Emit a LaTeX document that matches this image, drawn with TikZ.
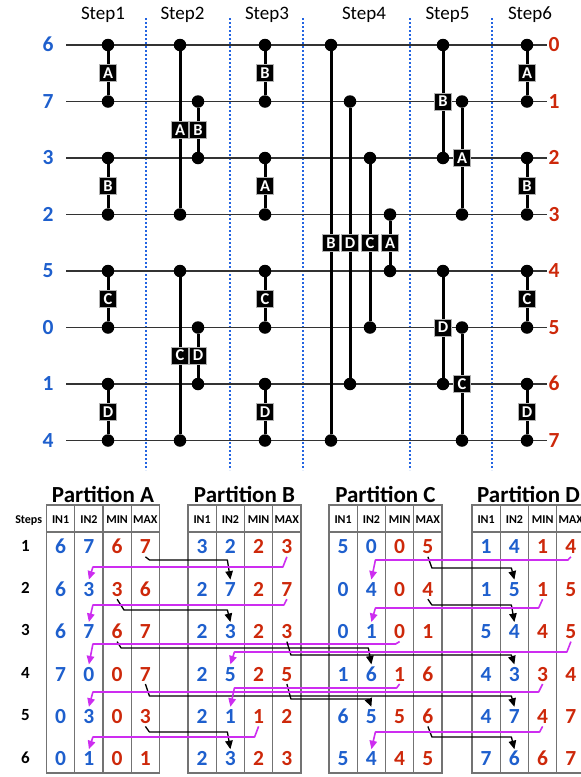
\documentclass[tikz,border=0pt]{standalone}
\usepackage{fontspec}
\setmainfont{Carlito}
\usetikzlibrary{arrows.meta}
\definecolor{nblue}{RGB}{30,95,205}
\definecolor{nred}{RGB}{205,40,10}
\definecolor{nmag}{RGB}{205,45,240}
\definecolor{sepblue}{RGB}{35,100,225}
\newcommand\comparator[6]{%
  \node[dotnode] (#1t) at (#2,#3) {};
  \node[dotnode] (#1b) at (#2,#4) {};
  \draw[cmpline] (#1t) -- (#1b);
  \node[labbox] (#1l) at (#2,#5) {#6};}
\newcommand\partitiontable[2]{%
  \draw[tblline] (#2,505) rectangle (#2+113,773);
  \draw[tblline] (#2,532) -- (#2+113,532);
  \foreach \k in {1,2,3} \draw[tblline] (#2+28.25*\k,505) -- (#2+28.25*\k,773);
  \node[ptitle] (#1title) at (#2+56.5,502) {Partition #1};
  \node[hdr] (#1h1) at (#2+14.1,523.5) {IN1};
  \node[hdr] (#1h2) at (#2+42.4,523.5) {IN2};
  \node[hdr] (#1h3) at (#2+70.6,523.5) {MIN};
  \node[hdr] (#1h4) at (#2+98.9,523.5) {MAX};}
\newcommand\tabrow[8]{%
  \node[bval] (#1#3a) at (#2+14.1,#4) {#5};
  \node[bval] (#1#3b) at (#2+42.4,#4) {#6};
  \node[rval] (#1#3c) at (#2+70.6,#4) {#7};
  \node[rval] (#1#3d) at (#2+98.9,#4) {#8};}
\newcommand\conn[6]{\draw[#1] (#2.south) -- (#4,#6) -- (#5,#6) -- (#3.north);}
\begin{document}
\begin{tikzpicture}[x=1pt,y=-1pt,
  wire/.style={line width=1.4pt, black!80},
  dotnode/.style={circle, fill=black, inner sep=0pt, minimum size=12.5pt},
  cmpline/.style={line width=3pt},
  labbox/.style={fill=black, draw=black!30, line width=0.7pt, text=white,
    font=\bfseries\fontsize{16.5}{16.5}\selectfont, inner sep=0pt,
    minimum width=16.5pt, minimum height=17pt},
  sepline/.style={sepblue, line width=1.8pt, dash pattern=on 1.8pt off 2.2pt},
  steplab/.style={font=\fontsize{19}{19}\selectfont, anchor=base},
  bval/.style={text=nblue, font=\bfseries\fontsize{21.5}{21.5}\selectfont,
    inner sep=0pt, outer sep=3pt, text height=13.6pt, text depth=0pt},
  rval/.style={bval, text=nred},
  tblline/.style={line width=1.2pt, black!55},
  ptitle/.style={font=\bfseries\fontsize{23}{23}\selectfont, anchor=base},
  hdr/.style={font=\bfseries\fontsize{12}{12}\selectfont, anchor=base},
  snum/.style={font=\bfseries\fontsize{17}{17}\selectfont, anchor=base},
  blk/.style={line width=1.3pt, line join=round, -{Triangle[length=8.5pt,width=7.5pt]}},
  mag/.style={nmag, line width=1.6pt, line join=round, -{Triangle[length=8.5pt,width=7.5pt]}}
]
\useasboundingbox (0,0) rectangle (581,777);
\clip (0,0) rectangle (581,777);

% separators
\foreach \x in {146,230,303,410,492} \draw[sepline] (\x,18) -- (\x,470);

% step labels
\foreach \i/\x in {1/103,2/182.5,3/267,4/364,5/447.5,6/530}
  \node[steplab] (st\i) at (\x,19.5) {Step\i};

% wires
\foreach \i/\y/\l in {0/45/6,1/101.5/7,2/158/3,3/214.5/2,4/271/5,5/327.5/0,6/384/1,7/440.5/4} {
  \coordinate (wl\i) at (66,\y);
  \coordinate (wr\i) at (547,\y);
  \draw[wire] (wl\i) -- (wr\i);
  \node[bval] (L\i) at (48,\y) {\l};
  \node[rval] (R\i) at (554,\y) {\i};
}

% comparators
\comparator{a1}{108}{45}{101.5}{73.25}{A}
\comparator{b1}{108}{158}{214.5}{186.25}{B}
\comparator{c1}{108}{271}{327.5}{299.25}{C}
\comparator{d1}{108}{384}{440.5}{412.25}{D}
\comparator{a2}{180}{45}{214.5}{130}{A}
\comparator{b2}{198}{101.5}{158}{130}{B}
\comparator{c2}{180}{271}{440.5}{355.5}{C}
\comparator{d2}{198}{327.5}{384}{355.5}{D}
\comparator{b3}{265}{45}{101.5}{73.25}{B}
\comparator{a3}{265}{158}{214.5}{186.25}{A}
\comparator{c3}{265}{271}{327.5}{299.25}{C}
\comparator{d3}{265}{384}{440.5}{412.25}{D}
\comparator{b4}{331}{45}{440.5}{243}{B}
\comparator{d4}{350}{101.5}{384}{243}{D}
\comparator{c4}{370}{158}{327.5}{243}{C}
\comparator{a4}{390}{214.5}{271}{243}{A}
\comparator{b5}{443}{45}{158}{101.5}{B}
\comparator{a5}{462}{101.5}{214.5}{158}{A}
\comparator{d5}{443}{271}{384}{327.5}{D}
\comparator{c5}{462}{327.5}{440.5}{384}{C}
\comparator{a6}{527}{45}{101.5}{73.25}{A}
\comparator{b6}{527}{158}{214.5}{186.25}{B}
\comparator{c6}{527}{271}{327.5}{299.25}{C}
\comparator{d6}{527}{384}{440.5}{412.25}{D}

% tables
\partitiontable{A}{46.5}
\partitiontable{B}{188}
\partitiontable{C}{329}
\partitiontable{D}{472}
\node[hdr] (stepshdr) at (28.7,523.5) {Steps};
\foreach \r/\y in {1/547,2/589.4,3/631.8,4/674.2,5/716.6,6/759}
  \node[snum] (sn\r) at (25.5,\y+4) {\r};

\tabrow{A}{46.5}{1}{547}{6}{7}{6}{7}
\tabrow{B}{188}{1}{547}{3}{2}{2}{3}
\tabrow{C}{329}{1}{547}{5}{0}{0}{5}
\tabrow{D}{472}{1}{547}{1}{4}{1}{4}
\tabrow{A}{46.5}{2}{589.4}{6}{3}{3}{6}
\tabrow{B}{188}{2}{589.4}{2}{7}{2}{7}
\tabrow{C}{329}{2}{589.4}{0}{4}{0}{4}
\tabrow{D}{472}{2}{589.4}{1}{5}{1}{5}
\tabrow{A}{46.5}{3}{631.8}{6}{7}{6}{7}
\tabrow{B}{188}{3}{631.8}{2}{3}{2}{3}
\tabrow{C}{329}{3}{631.8}{0}{1}{0}{1}
\tabrow{D}{472}{3}{631.8}{5}{4}{4}{5}
\tabrow{A}{46.5}{4}{674.2}{7}{0}{0}{7}
\tabrow{B}{188}{4}{674.2}{2}{5}{2}{5}
\tabrow{C}{329}{4}{674.2}{1}{6}{1}{6}
\tabrow{D}{472}{4}{674.2}{4}{3}{3}{4}
\tabrow{A}{46.5}{5}{716.6}{0}{3}{0}{3}
\tabrow{B}{188}{5}{716.6}{2}{1}{1}{2}
\tabrow{C}{329}{5}{716.6}{6}{5}{5}{6}
\tabrow{D}{472}{5}{716.6}{4}{7}{4}{7}
\tabrow{A}{46.5}{6}{759}{0}{1}{0}{1}
\tabrow{B}{188}{6}{759}{2}{3}{2}{3}
\tabrow{C}{329}{6}{759}{5}{4}{4}{5}
\tabrow{D}{472}{6}{759}{7}{6}{6}{7}

% transfers
\conn{blk}{A1d}{B2b}{149.5}{227.4}{560}
\conn{mag}{B1d}{A2b}{282.9}{92.9}{567}
\conn{blk}{C1d}{D2b}{431.9}{511.4}{568}
\conn{mag}{D1d}{C2b}{567.9}{375.4}{560}
\conn{blk}{A2c}{B3b}{124}{227.4}{610}
\conn{mag}{B2d}{A3b}{283.9}{92.9}{605}
\conn{blk}{C2d}{D3b}{431.9}{511.4}{605}
\conn{mag}{D2c}{C3b}{538.6}{375.4}{608}
\conn{blk}{A3c}{C4b}{121.1}{368.4}{648}
\conn{mag}{C3c}{A4b}{395.6}{92.9}{644}
\conn{blk}{B3d}{D4b}{290.9}{511.4}{655}
\conn{mag}{D3d}{B4b}{566.9}{234.4}{652}
\conn{blk}{A4d}{D5b}{149.4}{511.4}{696}
\conn{blk}{B4d}{C5b}{290.9}{368.4}{699}
\conn{mag}{C4c}{B5b}{396.6}{234.4}{688}
\conn{mag}{D4c}{A5b}{538.6}{92.9}{692}
\conn{blk}{A5d}{B6b}{149.4}{227.4}{732}
\conn{mag}{B5c}{A6b}{254.6}{92.9}{737}
\conn{blk}{C5d}{D6b}{431.9}{511.4}{737}
\conn{mag}{D5c}{C6b}{539.6}{375.4}{732}
\end{tikzpicture}
\end{document}
